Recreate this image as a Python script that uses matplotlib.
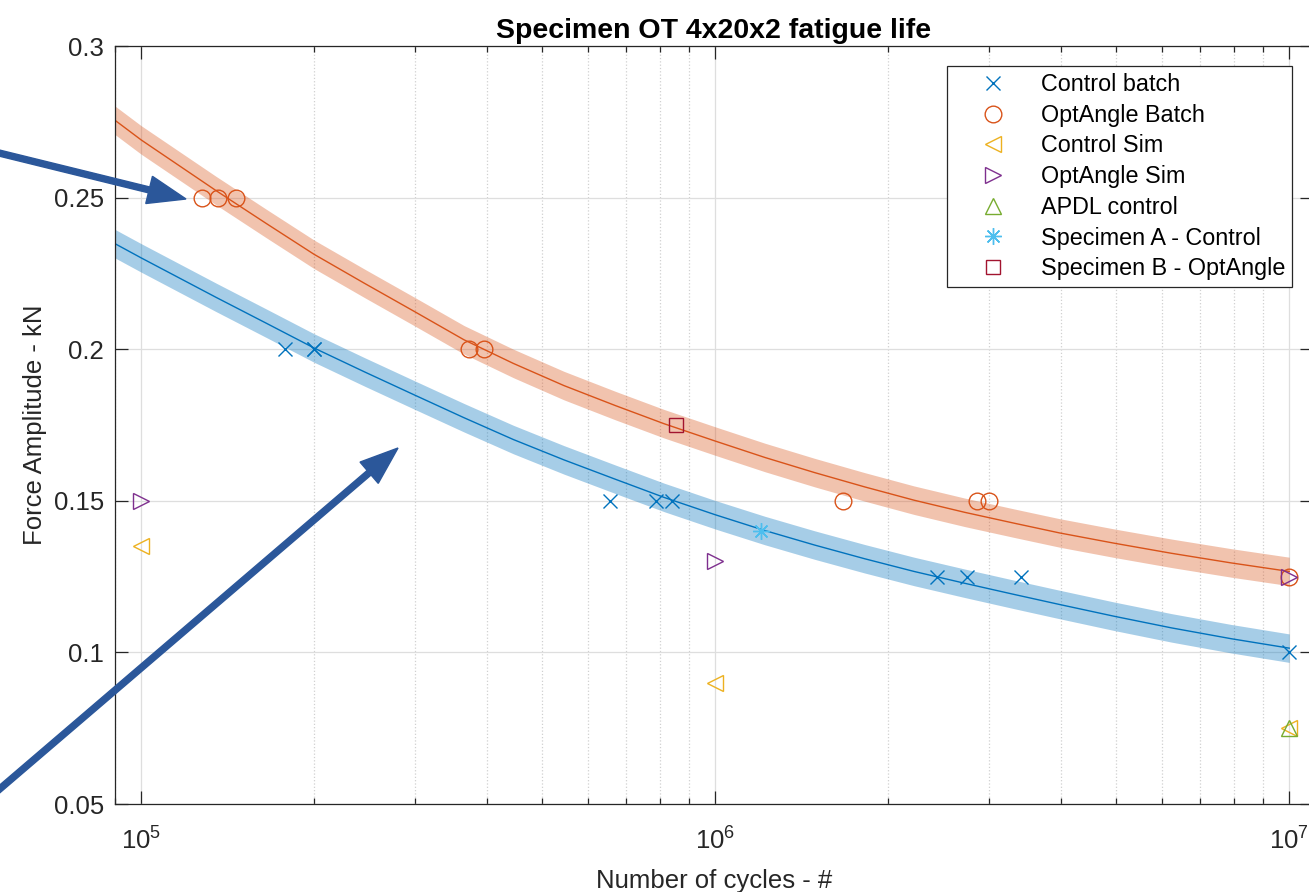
import numpy as np
import matplotlib.pyplot as plt
import matplotlib.patches as mpatches
import matplotlib.transforms as mtransforms
from matplotlib.ticker import LogLocator, NullFormatter, FixedLocator, FixedFormatter

plt.rcParams['font.family'] = ['Liberation Sans', 'DejaVu Sans']
plt.rcParams['mathtext.fontset'] = 'custom'
plt.rcParams['mathtext.rm'] = 'Liberation Sans'
plt.rcParams['mathtext.it'] = 'Liberation Sans:italic'
plt.rcParams['mathtext.bf'] = 'Liberation Sans:bold'

# --- data ---
control_batch_N = [1.78e5, 2.0e5, 2.0e5, 6.55e5, 7.9e5, 8.4e5, 2.43e6, 2.74e6, 3.41e6, 1.0e7]
control_batch_F = [0.2, 0.2, 0.2, 0.15, 0.15, 0.15, 0.125, 0.125, 0.125, 0.1]

optangle_batch_N = [1.275e5, 1.36e5, 1.465e5, 3.73e5, 3.95e5, 1.67e6, 2.86e6, 3.0e6, 1.0e7]
optangle_batch_F = [0.25, 0.25, 0.25, 0.2, 0.2, 0.15, 0.15, 0.15, 0.125]

control_sim_N = [1e5, 1e6, 1e7]
control_sim_F = [0.135, 0.09, 0.075]

optangle_sim_N = [1e5, 1e6, 1e7]
optangle_sim_F = [0.15, 0.13, 0.125]

apdl_N = [1e7]
apdl_F = [0.075]

specA_N = [1.2e6]
specA_F = [0.14]

specB_N = [8.55e5]
specB_F = [0.175]

# fitted curves
fit_N = [9.0e4, 1.0e5, 1.35e5, 1.65e5, 2.0e5, 2.45e5, 3.0e5, 3.65e5, 4.45e5,
         5.45e5, 6.7e5, 8.15e5, 1.0e6, 1.22e6, 1.49e6, 1.82e6, 2.22e6, 2.72e6,
         3.32e6, 3.98e6, 4.96e6, 6.23e6, 7.93e6, 1.0e7]
fit_opt_F = [0.2755, 0.2690, 0.2523, 0.2415, 0.2313, 0.2217, 0.2123, 0.2031, 0.1953,
             0.1880, 0.1814, 0.1754, 0.1697, 0.1643, 0.1593, 0.1546, 0.1502, 0.1462,
             0.1426, 0.1394, 0.1360, 0.1327, 0.1295, 0.1267]
fit_ctrl_F = [0.2348, 0.2301, 0.2171, 0.2086, 0.2004, 0.1925, 0.1848, 0.1774, 0.1702,
              0.1635, 0.1571, 0.1511, 0.1454, 0.1402, 0.1354, 0.1309, 0.1267, 0.1228,
              0.1191, 0.1158, 0.1119, 0.1081, 0.1045, 0.1014]
band_half = 0.0047

yticks = [0.05, 0.1, 0.15, 0.2, 0.25, 0.3]
ytick_labels = ['0.05', '0.1', '0.15', '0.2', '0.25', '0.3']

# MATLAB default colours
c_blue = '#0072BD'
c_orange = '#D95319'
c_yellow = '#EDB120'
c_purple = '#7E2F8E'
c_green = '#77AC30'
c_cyan = '#4DBEEE'
c_red = '#A2142F'
c_axis = '#262626'

fig = plt.figure(figsize=(13.09, 8.92), dpi=100)
ax = fig.add_axes([115 / 1309, 88 / 892, 1198 / 1309, 758 / 892])

fit_N = np.array(fit_N)
fo = np.array(fit_opt_F)
fc = np.array(fit_ctrl_F)
ax.fill_between(fit_N, fo - band_half, fo + band_half, color=c_orange, alpha=0.35, lw=0)
ax.fill_between(fit_N, fc - band_half, fc + band_half, color=c_blue, alpha=0.35, lw=0)
ax.plot(fit_N, fo, color=c_orange, lw=1.0)
ax.plot(fit_N, fc, color=c_blue, lw=1.0)

mk = dict(linestyle='none', markerfacecolor='none', markeredgewidth=1.0)
ax.plot(control_batch_N, control_batch_F, marker='x', color=c_blue, ms=10, label='Control batch', **mk)
ax.plot(optangle_batch_N, optangle_batch_F, marker='o', color=c_orange, ms=12, label='OptAngle Batch', **mk)
ax.plot(control_sim_N, control_sim_F, marker='<', color=c_yellow, ms=12, label='Control Sim', **mk)
ax.plot(optangle_sim_N, optangle_sim_F, marker='>', color=c_purple, ms=12, label='OptAngle Sim', **mk)
ax.plot(apdl_N, apdl_F, marker='^', color=c_green, ms=12, label='APDL control', **mk)
ax.plot(specA_N, specA_F, marker=(8, 2, 0), color=c_cyan, ms=12, label='Specimen A - Control', **mk)
ax.plot(specB_N, specB_F, marker='s', color=c_red, ms=10, label='Specimen B - OptAngle', **mk)

ax.set_xscale('log')
ax.set_xlim(9e4, 1.1e7)
ax.set_ylim(0.05, 0.3)
ax.xaxis.set_major_locator(LogLocator(base=10, numticks=10))
ax.xaxis.set_minor_locator(LogLocator(base=10, subs=np.arange(2, 10), numticks=20))
ax.xaxis.set_minor_formatter(NullFormatter())
ax.yaxis.set_major_locator(FixedLocator(yticks))
ax.yaxis.set_major_formatter(FixedFormatter(ytick_labels))

ax.grid(True, which='major', color='#dedede', lw=0.9)
ax.grid(True, which='minor', axis='x', color='#d0d0d0', lw=0.9, ls=':')
ax.set_axisbelow(True)

ax.tick_params(which='both', direction='in', top=True, right=True, colors=c_axis,
               labelsize=18.5)
ax.tick_params(which='major', length=9.5, width=0.9)
ax.tick_params(which='minor', length=4.5, width=0.9)
ax.tick_params(axis='y', pad=8)
ax.tick_params(axis='x', pad=17)
for s in ax.spines.values():
    s.set_color(c_axis)
    s.set_linewidth(0.9)

ax.set_title('Specimen OT 4x20x2 fatigue life', fontsize=20.5, fontweight='bold', pad=6)
ax.set_xlabel('Number of cycles - #', fontsize=18.5, color=c_axis, labelpad=10)
ax.set_ylabel('Force Amplitude - kN', fontsize=18.5, color=c_axis, labelpad=5)

leg = ax.legend(loc='upper right', bbox_to_anchor=((1292 - 115) / 1198, (804 - 66) / 758),
                borderaxespad=0, fontsize=16.8, frameon=True, fancybox=False,
                labelspacing=0.33, handletextpad=0.4, handlelength=3.3, borderpad=0.3,
                numpoints=1)
leg.get_frame().set_edgecolor(c_axis)
leg.get_frame().set_linewidth(0.9)
leg.get_frame().set_alpha(1.0)

# annotation arrows in figure pixels (image y measured from top)
arrow_col = '#2B579A'
H = 892


def pix_arrow(x0, y0, x1, y1):
    a = mpatches.FancyArrow(x0, H - y0, x1 - x0, -(y1 - y0), width=6, head_width=28,
                            head_length=38, length_includes_head=True,
                            color=arrow_col, transform=mtransforms.IdentityTransform())
    fig.add_artist(a)


pix_arrow(-5, 152, 186, 199)
pix_arrow(-5, 793, 398, 448)

fig.savefig('out.png', dpi=100)
